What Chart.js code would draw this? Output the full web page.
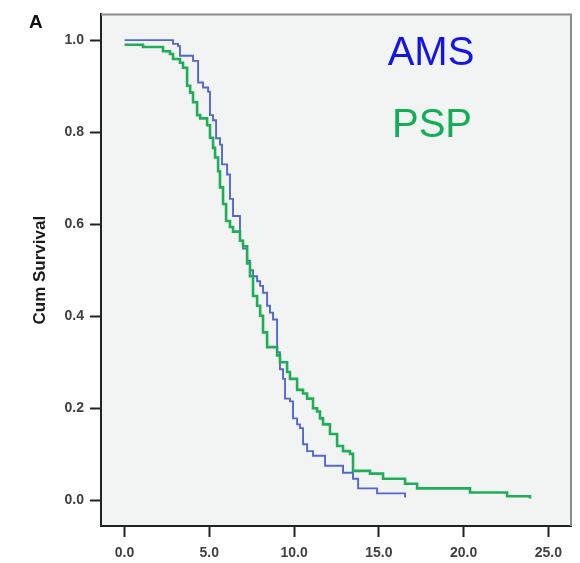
<!DOCTYPE html>
<html>
<head>
<meta charset="utf-8">
<script src="https://cdn.jsdelivr.net/npm/chart.js@4/dist/chart.umd.min.js"></script>
<style>
  html, body { margin: 0; padding: 0; background: #ffffff; }
  #wrap { width: 580px; height: 563px; position: relative; }
</style>
</head>
<body>
<div id="wrap"><canvas id="km" width="580" height="563"></canvas></div>
<script>
// Kaplan-Meier survival estimates (years from onset)
const amsTime = [0, 2.86, 3.16, 3.27, 4.04, 4.34, 4.63, 4.93, 5.04, 5.22, 5.40, 5.63, 5.75, 6.05, 6.22, 6.40, 6.81, 6.99, 7.23, 7.40, 7.58, 7.82, 8.00, 8.17, 8.41, 8.58, 8.76, 9.00, 9.17, 9.35, 9.47, 9.76, 9.94, 10.18, 10.35, 10.53, 10.77, 11.12, 11.83, 12.89, 13.48, 13.78, 14.90, 16.55];
const amsSurv = [1.000, 0.992, 0.987, 0.966, 0.955, 0.908, 0.897, 0.888, 0.837, 0.826, 0.787, 0.773, 0.730, 0.708, 0.655, 0.618, 0.564, 0.547, 0.521, 0.500, 0.487, 0.476, 0.466, 0.451, 0.423, 0.408, 0.393, 0.322, 0.285, 0.264, 0.221, 0.215, 0.178, 0.165, 0.157, 0.122, 0.107, 0.097, 0.075, 0.060, 0.047, 0.026, 0.015, 0.006];

const pspTime = [0, 1.09, 2.27, 2.68, 2.86, 3.27, 3.45, 3.69, 3.87, 4.04, 4.28, 4.46, 4.87, 5.04, 5.22, 5.34, 5.52, 5.63, 5.81, 5.99, 6.22, 6.40, 6.81, 6.99, 7.23, 7.40, 7.58, 7.82, 8.00, 8.17, 8.41, 9.00, 9.17, 9.59, 9.76, 10.18, 10.53, 10.77, 11.12, 11.36, 11.53, 11.71, 12.12, 12.54, 12.89, 13.30, 13.48, 14.48, 15.25, 16.55, 17.26, 20.38, 22.57, 23.92];
const pspSurv = [0.990, 0.985, 0.976, 0.970, 0.959, 0.951, 0.940, 0.901, 0.886, 0.865, 0.837, 0.830, 0.815, 0.788, 0.766, 0.745, 0.715, 0.680, 0.644, 0.607, 0.594, 0.584, 0.564, 0.552, 0.515, 0.487, 0.444, 0.423, 0.401, 0.365, 0.333, 0.315, 0.300, 0.279, 0.264, 0.240, 0.232, 0.221, 0.200, 0.193, 0.178, 0.165, 0.144, 0.118, 0.107, 0.101, 0.064, 0.058, 0.047, 0.036, 0.026, 0.017, 0.009, 0.004];

const groupNames = ['AMS', 'PSP'];
const xTickValues = [0, 5, 10, 15, 20, 25];
const yTickValues = [0, 0.2, 0.4, 0.6, 0.8, 1.0];
const panelLetter = 'A';
const yAxisTitle = 'Cum Survival';

const toPoints = (t, s) => t.map((v, i) => ({ x: v, y: s[i] }));

// Plot panel: grey fill, light frame on top/right, panel letter and group labels
const panelDecor = {
  id: 'panelDecor',
  beforeDraw(chart) {
    const { ctx, chartArea: a } = chart;
    ctx.save();
    ctx.fillStyle = '#f2f3f3';
    ctx.fillRect(a.left, a.top, a.right - a.left, a.bottom - a.top);
    ctx.restore();
  },
  afterDraw(chart) {
    const { ctx, chartArea: a } = chart;
    ctx.save();
    ctx.strokeStyle = '#8c8c8c';
    ctx.lineWidth = 2;
    ctx.beginPath();
    ctx.moveTo(a.left, a.top);
    ctx.lineTo(a.right, a.top);
    ctx.lineTo(a.right, a.bottom);
    ctx.stroke();

    ctx.fillStyle = '#111';
    ctx.font = 'bold 19px "Liberation Sans", Arial, sans-serif';
    ctx.textAlign = 'left';
    ctx.textBaseline = 'alphabetic';
    ctx.fillText(panelLetter, 29, 28);

    ctx.font = '40px "Liberation Sans", Arial, sans-serif';
    ctx.textAlign = 'center';
    ctx.fillStyle = '#1414e6';
    ctx.fillText(groupNames[0], 431, 65);
    ctx.fillStyle = '#12ae55';
     ctx.fillText(groupNames[1], 432, 137);
    ctx.restore();
  }
};

const tickFont = { family: '"Liberation Sans", Arial, sans-serif', size: 14, weight: 'bold' };

new Chart(document.getElementById('km'), {
  type: 'line',
  data: {
    datasets: [
      {
        label: groupNames[1],
        data: toPoints(pspTime, pspSurv),
        stepped: 'before',
        borderColor: '#1fae57',
        borderWidth: 2.6,
        pointRadius: 0,
        fill: false,
        order: 0
      },
      {
        label: groupNames[0],
        data: toPoints(amsTime, amsSurv),
        stepped: 'before',
        borderColor: '#5367cf',
        borderWidth: 1.9,
        pointRadius: 0,
        fill: false,
        order: 1
      }
    ]
  },
  options: {
    responsive: false,
    animation: false,
    events: [],
    layout: { padding: { top: 8, right: 9, left: 0, bottom: 0 } },
    plugins: { legend: { display: false }, tooltip: { enabled: false } },
    scales: {
      x: {
        type: 'linear',
        min: -1.39,
        max: 26.34,
        afterBuildTicks(scale) { scale.ticks = xTickValues.map(v => ({ value: v })); },
        afterFit(scale) { scale.height = 37; },
        ticks: {
          font: tickFont,
          color: '#404040',
          padding: 8,
          maxRotation: 0,
          callback: v => Number(v).toFixed(1)
        },
        grid: { drawOnChartArea: false, tickLength: 11, tickWidth: 2, tickColor: '#222' },
        border: { color: '#222', width: 2 }
      },
      y: {
        type: 'linear',
        min: -0.0558,
        max: 1.056,
        afterBuildTicks(scale) { scale.ticks = yTickValues.map(v => ({ value: v })); },
        afterFit(scale) { scale.width = 101; },
        ticks: {
          font: tickFont,
          color: '#404040',
          padding: 6,
          callback: v => Number(v).toFixed(1)
        },
        title: {
          display: true,
          text: yAxisTitle,
          color: '#1a1a1a',
          font: { family: '"Liberation Sans", Arial, sans-serif', size: 17, weight: 'bold' },
          padding: { top: 30, bottom: 0 }
        },
        grid: { drawOnChartArea: false, tickLength: 11, tickWidth: 2, tickColor: '#222' },
        border: { color: '#222', width: 2 }
      }
    }
  },
  plugins: [panelDecor]
});
</script>
</body>
</html>
